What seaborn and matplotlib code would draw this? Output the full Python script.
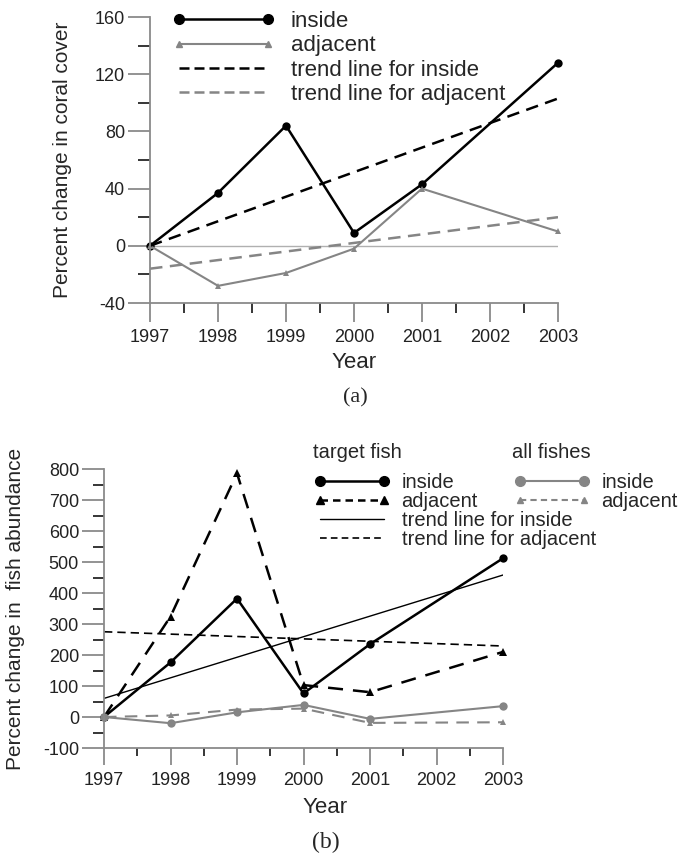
import seaborn as sns
import matplotlib.pyplot as plt
from matplotlib.ticker import MultipleLocator
from matplotlib.lines import Line2D

sns.set_style("ticks")
plt.rcParams['font.family'] = ['Liberation Sans', 'DejaVu Sans']
plt.rcParams['axes.unicode_minus'] = False

# panel (a): coral cover
years = [1997, 1998, 1999, 2000, 2001, 2003]
coral_inside = [0, 37, 84, 9, 43, 128]
coral_adjacent = [0, -28, -19, -2, 40, 10]
trend_years = [1997, 2003]
coral_trend_inside = [0, 103]
coral_trend_adjacent = [-16, 20]

# panel (b): fish abundance
target_inside = [0, 176, 382, 76, 235, 512]
target_adjacent = [0, 324, 786, 103, 80, 210]
all_inside = [0, -20, 15, 39, -6, 35]
all_adjacent = [0, 5, 24, 27, -19, -17]
fish_trend_inside = [60, 458]
fish_trend_adjacent = [275, 229]

tick_years = [1997, 1998, 1999, 2000, 2001, 2002, 2003]
GREY = '#858585'
AXC = '#8a8a8a'

fig = plt.figure(figsize=(6.79, 8.55), dpi=100)


def style_axis(ax):
    sns.despine(ax=ax)
    for s in ['left', 'bottom']:
        ax.spines[s].set_color(AXC)
        ax.spines[s].set_linewidth(1.3)
    ax.set_xlim(1997, 2003)
    ax.set_xticks(tick_years)
    ax.xaxis.set_minor_locator(MultipleLocator(0.5))
    ax.tick_params(colors=AXC, labelcolor='#222222', labelsize=13, width=1.3)
    ax.tick_params(axis='x', which='major', length=14, pad=5)
    ax.tick_params(axis='x', which='minor', length=7, width=1.3)
    ax.tick_params(axis='y', which='major', length=16, pad=2)
    ax.tick_params(axis='y', which='minor', length=9, width=1.3)


# ---- (a)
ax1 = fig.add_axes([150 / 679, 1 - 303 / 855, 408 / 679, 286 / 855])
ax1.axhline(0, color='#b0b0b0', lw=1, zorder=0)
sns.lineplot(x=years, y=coral_inside, ax=ax1, color='black', lw=1.8,
             marker='o', markersize=6, markeredgewidth=0, clip_on=False)
sns.lineplot(x=years, y=coral_adjacent, ax=ax1, color=GREY, lw=1.5,
             marker='^', markersize=5, markeredgewidth=0, clip_on=False)
sns.lineplot(x=trend_years, y=coral_trend_inside, ax=ax1, color='black',
             lw=1.8)
sns.lineplot(x=trend_years, y=coral_trend_adjacent, ax=ax1, color=GREY,
             lw=1.8)
ax1.lines[3].set_dashes((5, 3))
ax1.lines[4].set_dashes((5, 3))
style_axis(ax1)
ax1.set_ylim(-40, 160)
ax1.set_yticks([-40, 0, 40, 80, 120, 160])
ax1.yaxis.set_minor_locator(MultipleLocator(20))
ax1.set_ylabel('Percent change in coral cover', fontsize=15)
ax1.set_xlabel('Year', fontsize=16)
ax1.yaxis.set_label_coords(-0.191, 0.5)
ax1.xaxis.set_label_coords(0.5, -0.17)

h_a = [
    Line2D([], [], color='black', lw=1.8, marker='o', markersize=7),
    Line2D([], [], color=GREY, lw=1.5, marker='^', markersize=5),
    Line2D([], [], color='black', lw=1.8, dashes=(4, 2)),
    Line2D([], [], color=GREY, lw=1.8, dashes=(4, 2)),
]
fig.legend(h_a, ['inside', 'adjacent', 'trend line for inside',
                 'trend line for adjacent'],
           loc='upper left', bbox_to_anchor=(172 / 679, 1 - 11 / 855),
           frameon=False, fontsize=16, numpoints=2, handlelength=4.6,
           handletextpad=0.75, labelspacing=0.15, borderpad=0, borderaxespad=0)

fig.text(355 / 679, 1 - 398 / 855, '(a)', ha='center', va='center',
         fontsize=16, family='Liberation Serif')

# ---- (b)
ax2 = fig.add_axes([104 / 679, 1 - 748 / 855, 399 / 679, 279 / 855])
sns.lineplot(x=years, y=target_inside, ax=ax2, color='black', lw=1.8,
             marker='o', markersize=6, markeredgewidth=0, clip_on=False)
sns.lineplot(x=years, y=target_adjacent, ax=ax2, color='black', lw=1.8,
             marker='^', markersize=6, markeredgewidth=0, clip_on=False)
sns.lineplot(x=years, y=all_inside, ax=ax2, color=GREY, lw=1.5,
             marker='o', markersize=6, markeredgewidth=0, clip_on=False)
sns.lineplot(x=years, y=all_adjacent, ax=ax2, color=GREY, lw=1.5,
             marker='^', markersize=5, markeredgewidth=0, clip_on=False)
sns.lineplot(x=trend_years, y=fish_trend_inside, ax=ax2, color='black', lw=1)
sns.lineplot(x=trend_years, y=fish_trend_adjacent, ax=ax2, color='black',
             lw=1.2)
ax2.lines[1].set_dashes((6, 4))
ax2.lines[3].set_dashes((6, 4))
ax2.lines[5].set_dashes((5, 3))
style_axis(ax2)
ax2.set_ylim(-100, 800)
ax2.set_yticks(range(-100, 801, 100))
ax2.yaxis.set_minor_locator(MultipleLocator(50))
ax2.tick_params(axis='x', which='major', length=12)
ax2.tick_params(axis='x', which='minor', length=6)
ax2.tick_params(axis='y', which='minor', length=8)
ax2.set_ylabel('Percent change in  fish abundance', fontsize=15)
ax2.set_xlabel('Year', fontsize=16)
ax2.yaxis.set_label_coords(-0.198, 0.5)
ax2.xaxis.set_label_coords(0.554, -0.175)

h_t = [
    Line2D([], [], color='black', lw=1.8, marker='o', markersize=7),
    Line2D([], [], color='black', lw=1.8, marker='^', markersize=6,
           dashes=(3, 2)),
    Line2D([], [], color='black', lw=1),
    Line2D([], [], color='black', lw=1.2, dashes=(4, 2.5)),
]
fig.legend(h_t, ['inside', 'adjacent', 'trend line for inside',
                 'trend line for adjacent'],
           loc='upper left', bbox_to_anchor=(314 / 679, 1 - 473 / 855),
           frameon=False, fontsize=14.5, numpoints=2,
           handlelength=3.8, handletextpad=0.55, labelspacing=0.0,
           borderpad=0, borderaxespad=0)
h_all = [
    Line2D([], [], color=GREY, lw=1.5, marker='o', markersize=7),
    Line2D([], [], color=GREY, lw=1.5, marker='^', markersize=5,
           dashes=(3, 2)),
]
fig.legend(h_all, ['inside', 'adjacent'],
           loc='upper left', bbox_to_anchor=(514 / 679, 1 - 473 / 855),
           frameon=False, fontsize=14.5, numpoints=2,
           handlelength=3.8, handletextpad=0.55, labelspacing=0.0,
           borderpad=0, borderaxespad=0)
fig.text(313 / 679, 1 - 452 / 855, 'target fish', ha='left', va='center',
         fontsize=14.5)
fig.text(512 / 679, 1 - 452 / 855, 'all fishes', ha='left', va='center',
         fontsize=14.5)

fig.text(326 / 679, 1 - 842 / 855, '(b)', ha='center', va='center',
         fontsize=17, family='Liberation Serif')

fig.savefig('out.png', dpi=100, facecolor='white')
